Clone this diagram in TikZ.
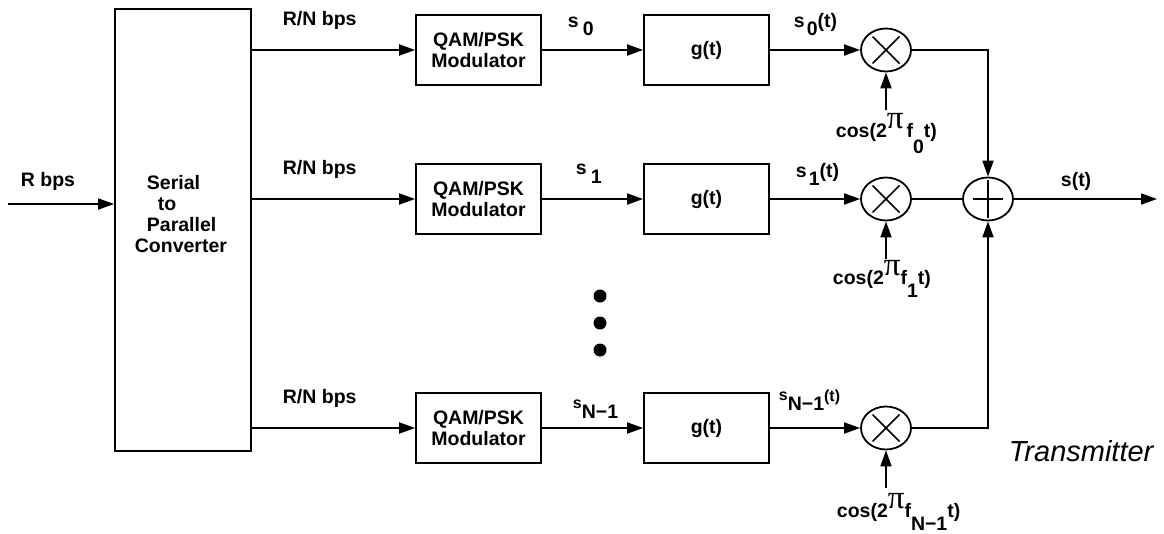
\documentclass[tikz,border=0pt]{standalone}
\usepackage{fontspec}
\setmainfont{Liberation Sans}
\newfontfamily\pifont{Liberation Serif}
\usetikzlibrary{arrows.meta,shapes.geometric}
\newcommand{\pisym}{\raisebox{9pt}{\pifont\mdseries\fontsize{33}{33}\selectfont π}}
\begin{document}
\begin{tikzpicture}[x=1pt,y=-1pt, line width=1.8pt,
  lbl/.style={font=\bfseries\fontsize{19.5}{20.5}\selectfont, inner sep=0, anchor=base west},
  blk/.style={draw, minimum width=125pt, minimum height=70pt, inner sep=0, align=center,
              font=\bfseries\fontsize{19.5}{20.5}\selectfont},
  mul/.style={draw, ellipse, minimum width=50pt, minimum height=43pt, inner sep=0},
  arr/.style={-{Triangle[length=16pt,width=11pt]}},
  dot/.style={circle, fill, minimum size=13pt, inner sep=0}
]
\useasboundingbox (0,0) rectangle (1164,533);

% converter
\node[draw, minimum width=136pt, minimum height=442pt, inner sep=0] (conv) at (183,230) {};
\node[font=\bfseries\fontsize{19.5}{20.7}\selectfont, align=left, inner sep=0, anchor=west] (convtxt) at (134,214)
  {\hspace*{12pt}Serial\\\hspace*{23pt}to\\\hspace*{12pt}Parallel\\Converter};
\coordinate (in) at (8,204);
\draw[arr] (in) -- (in -| conv.west);
\node[lbl] (rbps) at (20,186) {R bps};

% modulators
\node[blk] (m0) at (478.5,50) {QAM/PSK\\Modulator};
\node[blk] (m1) at (478.5,199) {QAM/PSK\\Modulator};
\node[blk] (m2) at (478.5,428) {QAM/PSK\\Modulator};
% pulse shaping
\node[blk] (g0) at (706.5,50) {g(t)};
\node[blk] (g1) at (706.5,199) {g(t)};
\node[blk] (g2) at (706.5,428) {g(t)};
% multipliers
\node[mul] (x0) at (886,50) {};
\node[mul] (x1) at (886,199) {};
\node[mul] (x2) at (886,428) {};
\node[mul] (add) at (988,199) {};

\foreach \n in {x0,x1,x2}{
  \draw[line width=1.5pt] ([shift={(-13.5,-13.5)}]\n.center) -- ([shift={(13.5,13.5)}]\n.center);
  \draw[line width=1.5pt] ([shift={(-13.5,13.5)}]\n.center) -- ([shift={(13.5,-13.5)}]\n.center);
}
\draw[line width=1.5pt] ([shift={(-15,0)}]add.center) -- ([shift={(15,0)}]add.center);
\draw[line width=1.5pt] ([shift={(0,-19)}]add.center) -- ([shift={(0,19)}]add.center);

% connections
\foreach \i in {0,1,2}{
  \draw[arr] (m\i.west -| conv.east) -- (m\i.west);
  \draw[arr] (m\i.east) -- (g\i.west);
  \draw[arr] (g\i.east) -- (x\i.west);
}
\draw[arr] (x0.east) -- (x0.east -| add.north) -- (add.north);
\draw[arr] (x2.east) -- (x2.east -| add.south) -- (add.south);
\draw (x1.east) -- (add.west);
\coordinate (out) at (1157,199);
\draw[arr] (add.east) -- (out);

\coordinate (c0) at (886,110);
\coordinate (c1) at (886,259);
\coordinate (c2) at (886,488);
\draw[arr] (c0) -- (x0.south);
\draw[arr] (c1) -- (x1.south);
\draw[arr] (c2) -- (x2.south);

% dots
\node[dot] (d1) at (600,296) {};
\node[dot] (d2) at (600,323) {};
\node[dot] (d3) at (600,350) {};

% labels
\node[lbl] (r0) at (282,25) {R/N bps};
\node[lbl] (r1) at (282,174) {R/N bps};
\node[lbl] (r2) at (282,403) {R/N bps};

\node[lbl] (s0) at (567,27) {s\hspace{4pt}\raisebox{-8pt}{0}};
\node[lbl] (s1) at (575,174) {s\hspace{4pt}\raisebox{-9pt}{1}};
\node[lbl] (s2) at (572,418) {\raisebox{10pt}{\fontsize{16}{16}\selectfont s}N−1};

\node[lbl] (st0) at (793,27) {s\hspace{2pt}\raisebox{-8pt}{0}(t)};
\node[lbl] (st1) at (795,177) {s\hspace{2pt}\raisebox{-8pt}{1}(t)};
\node[lbl] (st2) at (778,410) {\raisebox{10pt}{\fontsize{16}{16}\selectfont s}N−1\raisebox{9pt}{\fontsize{16}{16}\selectfont (t)}};

\node[lbl] (cos0) at (835,137) {cos(2\pisym\hspace{3pt}f\raisebox{-16pt}{0}t)};
\node[lbl] (cos1) at (832,284) {cos(2\pisym f\raisebox{-13pt}{1}t)};
\node[lbl] (cos2) at (836,517) {cos(2\pisym f\raisebox{-13pt}{N−1}t)};

\node[lbl, font=\itshape\fontsize{29}{30}\selectfont] (tx) at (1008,461) {Transmitter};
\node[lbl] (sout) at (1060,186) {s(t)};
\end{tikzpicture}
\end{document}
